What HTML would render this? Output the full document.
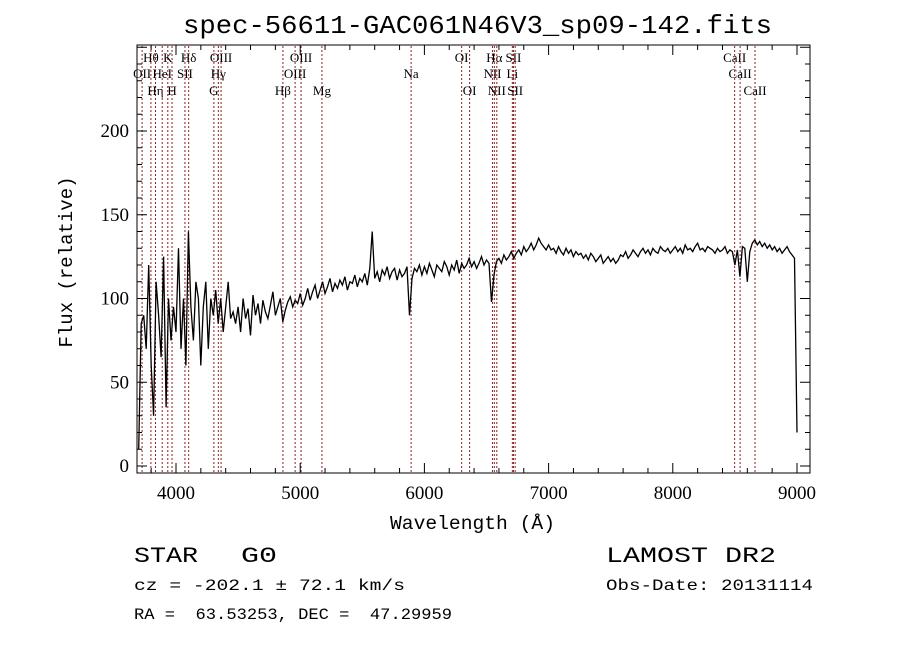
<!DOCTYPE html>
<html><head><meta charset="utf-8"><style>
body{margin:0;background:#fff}
svg text{font-family:"Liberation Serif",serif;white-space:pre}
.m{font-family:"Liberation Mono",monospace}
</style></head><body>
<svg id="c" width="900" height="649" xmlns="http://www.w3.org/2000/svg">
<rect width="900" height="649" fill="#fff"/>
<text class="m" x="183" y="33" font-size="26" textLength="589" lengthAdjust="spacingAndGlyphs">spec-56611-GAC061N46V3_sp09-142.fits</text>
<g id="lines"></g>
<polyline id="spec" fill="none" stroke="#000" stroke-width="1.3" stroke-linejoin="miter"/>
<rect x="137" y="45" width="673" height="428" fill="none" stroke="#000"/>
<g id="ax"></g>
<text class="m" x="390" y="529" font-size="19" textLength="165" lengthAdjust="spacingAndGlyphs">Wavelength (Å)</text>
<text class="m" x="72" y="262" font-size="19" text-anchor="middle" transform="rotate(-90 72 262)">Flux (relative)</text>
<text class="m" x="134" y="562" font-size="22" textLength="64" lengthAdjust="spacingAndGlyphs">STAR</text>
<text class="m" x="241" y="562" font-size="22" textLength="36" lengthAdjust="spacingAndGlyphs">G0</text>
<text class="m" x="606" y="562" font-size="22" textLength="170" lengthAdjust="spacingAndGlyphs">LAMOST DR2</text>
<text class="m" x="134" y="590" font-size="16" textLength="271" lengthAdjust="spacingAndGlyphs">cz = -202.1 ± 72.1 km/s</text>
<text class="m" x="606" y="590" font-size="16" textLength="207" lengthAdjust="spacingAndGlyphs">Obs-Date: 20131114</text>
<text class="m" x="134" y="619" font-size="16" textLength="318" lengthAdjust="spacingAndGlyphs">RA =  63.53253, DEC =  47.29959</text>
</svg>
<script>
const xTicks=[4000,5000,6000,7000,8000,9000];
const yTicks=[0,50,100,150,200];
const lineNames=["OII","Hθ","Hη","HeI","K","H","SII","Hδ","G","Hγ","OIII","Hβ","OIII","OIII","Mg","Na","OI","OI","NII","Hα","NII","Li","SII","SII","CaII","CaII","CaII"];
const lineWaves=[3727,3798,3835,3889,3934,3968,4072,4102,4305,4341,4363,4861,4959,5007,5175,5893,6300,6364,6548,6563,6583,6708,6717,6731,8498,8542,8662];
const lineRows=[1,0,2,1,0,2,1,0,2,1,0,2,1,0,2,1,0,2,1,0,2,1,0,2,0,1,2];
const waveStart=3700;
const waveStep=20;
const flux=[10,85,90,70,120,60,30,110,90,65,125,35,100,75,95,
80,130,70,100,60,140,95,75,110,100,60,95,110,70,100,90,105,85,100,80,95,110,88,92,85,
95,80,100,88,94,78,102,90,97,85,99,92,88,96,104,90,95,100,86,93,98,101,95,99,97,
103,96,100,106,99,104,108,100,105,110,103,107,112,104,109,106,111,108,113,105,110,109,114,107,112,
110,115,108,118,140,112,116,110,117,114,119,112,116,118,111,117,113,115,119,90,112,118,116,120,114,
119,115,121,117,113,120,118,116,122,119,114,120,117,123,115,121,118,120,124,119,122,118,121,125,120,
123,121,98,114,122,124,121,126,123,125,128,124,127,129,126,131,128,130,133,129,132,136,133,131,129,
132,129,130,127,131,128,126,130,127,129,125,128,126,127,124,126,123,127,125,122,124,126,121,123,125,
122,124,121,123,126,125,128,124,126,129,127,125,128,130,127,129,126,130,128,127,131,129,128,130,127,
129,131,128,130,127,132,129,130,128,131,133,129,130,128,131,130,129,127,130,128,129,131,127,129,128,
120,129,113,131,130,110,128,133,135,132,134,131,133,130,132,129,131,128,130,127,129,131,128,126,124,
20];
const X=w=>176+(w-4000)*0.1242;
const Y=v=>466-v*1.675;
const NS="http://www.w3.org/2000/svg";
document.getElementById('spec').setAttribute('points',flux.map((v,i)=>X(waveStart+i*waveStep).toFixed(1)+','+Y(v).toFixed(1)).join(' '));
const lg=document.getElementById('lines');
const rowY=[62,78,95];
lineWaves.forEach((w,i)=>{
  const l=document.createElementNS(NS,'line');
  l.setAttribute('x1',X(w));l.setAttribute('x2',X(w));l.setAttribute('y1',46);l.setAttribute('y2',472);
  l.setAttribute('stroke','#8b2020');l.setAttribute('stroke-dasharray','2,2');l.setAttribute('stroke-width','1');
  
  
  lg.appendChild(l);
  const t=document.createElementNS(NS,'text');
  t.setAttribute('x',X(w));t.setAttribute('y',rowY[lineRows[i]]);t.setAttribute('font-size','13');t.setAttribute('text-anchor','middle');
  t.textContent=lineNames[i];
  
  
  lg.appendChild(t);
});
const ax=document.getElementById('ax');
function mk(tag,attrs){const e=document.createElementNS(NS,tag);for(const k in attrs)e.setAttribute(k,attrs[k]);ax.appendChild(e);return e;}
for(let w=3800;w<=9100;w+=200){const x=X(w);const big=w%1000===0;
  const a=mk('line',{x1:x,x2:x,y1:473,y2:473-(big?10:5),stroke:'#000'});
  const b=mk('line',{x1:x,x2:x,y1:45,y2:45+(big?10:5),stroke:'#000'});}
xTicks.forEach(w=>{const t=mk('text',{x:X(w),y:499,'font-size':'19','text-anchor':'middle'});t.textContent=w;
  });
for(let v=0;v<=250;v+=10){const y=Y(v);if(y<45)break;const big=v%50===0;
  const a=mk('line',{x1:137,x2:137+(big?10:5),y1:y,y2:y,stroke:'#000'});
  const b=mk('line',{x1:810,x2:810-(big?10:5),y1:y,y2:y,stroke:'#000'});}
yTicks.forEach(v=>{const t=mk('text',{x:129,y:Y(v)+6,'font-size':'19','text-anchor':'end'});t.textContent=v;
  });
</script>
</body></html>
